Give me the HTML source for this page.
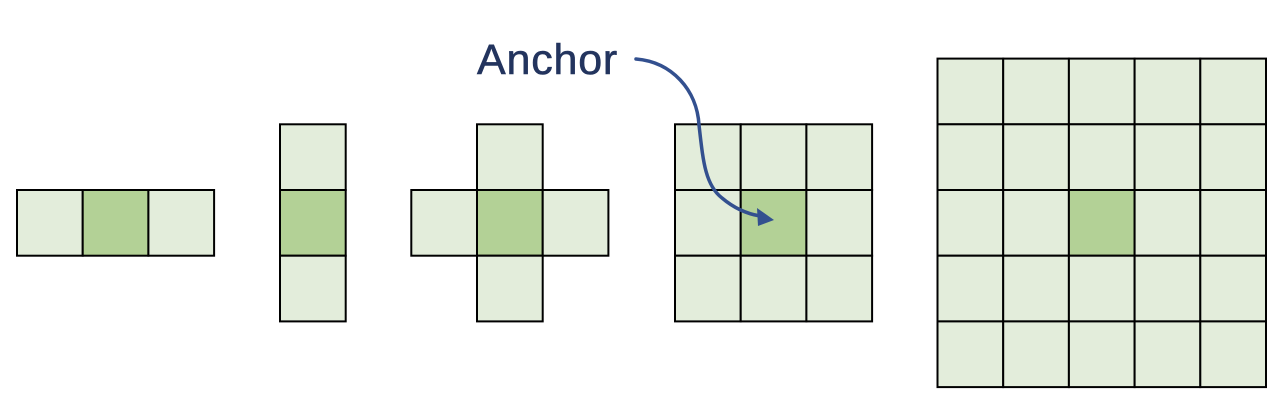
<!DOCTYPE html>
<html><head><style>html,body{margin:0;padding:0;background:#fff;width:1284px;height:406px;overflow:hidden}</style></head>
<body>
<svg width="1284" height="406" xmlns="http://www.w3.org/2000/svg">
<defs>
<g id="L"><rect width="65.7" height="65.7" fill="#e3eddb" stroke="#000" stroke-width="2"/></g>
<g id="D"><rect width="65.7" height="65.7" fill="#b3d196" stroke="#000" stroke-width="2"/></g>
</defs>
<use href="#L" x="17" y="190"/><use href="#D" x="82.7" y="190"/><use href="#L" x="148.4" y="190"/>
<use href="#L" x="280" y="124.3"/><use href="#D" x="280" y="190"/><use href="#L" x="280" y="255.7"/>
<use href="#L" x="477" y="124.3"/><use href="#L" x="411.3" y="190"/><use href="#D" x="477" y="190"/><use href="#L" x="542.7" y="190"/><use href="#L" x="477" y="255.7"/>
<use href="#L" x="675" y="124.3"/><use href="#L" x="740.7" y="124.3"/><use href="#L" x="806.4" y="124.3"/>
<use href="#L" x="675" y="190"/><use href="#D" x="740.7" y="190"/><use href="#L" x="806.4" y="190"/>
<use href="#L" x="675" y="255.7"/><use href="#L" x="740.7" y="255.7"/><use href="#L" x="806.4" y="255.7"/>
<g>
<use href="#L" x="937.5" y="58.6"/><use href="#L" x="1003.2" y="58.6"/><use href="#L" x="1068.9" y="58.6"/><use href="#L" x="1134.6" y="58.6"/><use href="#L" x="1200.3" y="58.6"/>
<use href="#L" x="937.5" y="124.3"/><use href="#L" x="1003.2" y="124.3"/><use href="#L" x="1068.9" y="124.3"/><use href="#L" x="1134.6" y="124.3"/><use href="#L" x="1200.3" y="124.3"/>
<use href="#L" x="937.5" y="190"/><use href="#L" x="1003.2" y="190"/><use href="#D" x="1068.9" y="190"/><use href="#L" x="1134.6" y="190"/><use href="#L" x="1200.3" y="190"/>
<use href="#L" x="937.5" y="255.7"/><use href="#L" x="1003.2" y="255.7"/><use href="#L" x="1068.9" y="255.7"/><use href="#L" x="1134.6" y="255.7"/><use href="#L" x="1200.3" y="255.7"/>
<use href="#L" x="937.5" y="321.4"/><use href="#L" x="1003.2" y="321.4"/><use href="#L" x="1068.9" y="321.4"/><use href="#L" x="1134.6" y="321.4"/><use href="#L" x="1200.3" y="321.4"/>
</g>
<text x="477" y="74" font-family="Liberation Sans, sans-serif" font-size="43" letter-spacing="0.8" fill="#23345e" stroke="#23345e" stroke-width="0.6">Anchor</text>
<path d="M636 59 C 672 62, 697 90, 699 125 C 703 160, 705 185, 722 198 C 735 209, 748 214, 760 216" fill="none" stroke="#33508f" stroke-width="3.5" stroke-linecap="round"/>
<polygon points="774,220 757,208 758,226" fill="#33508f"/>
</svg>
</body></html>
